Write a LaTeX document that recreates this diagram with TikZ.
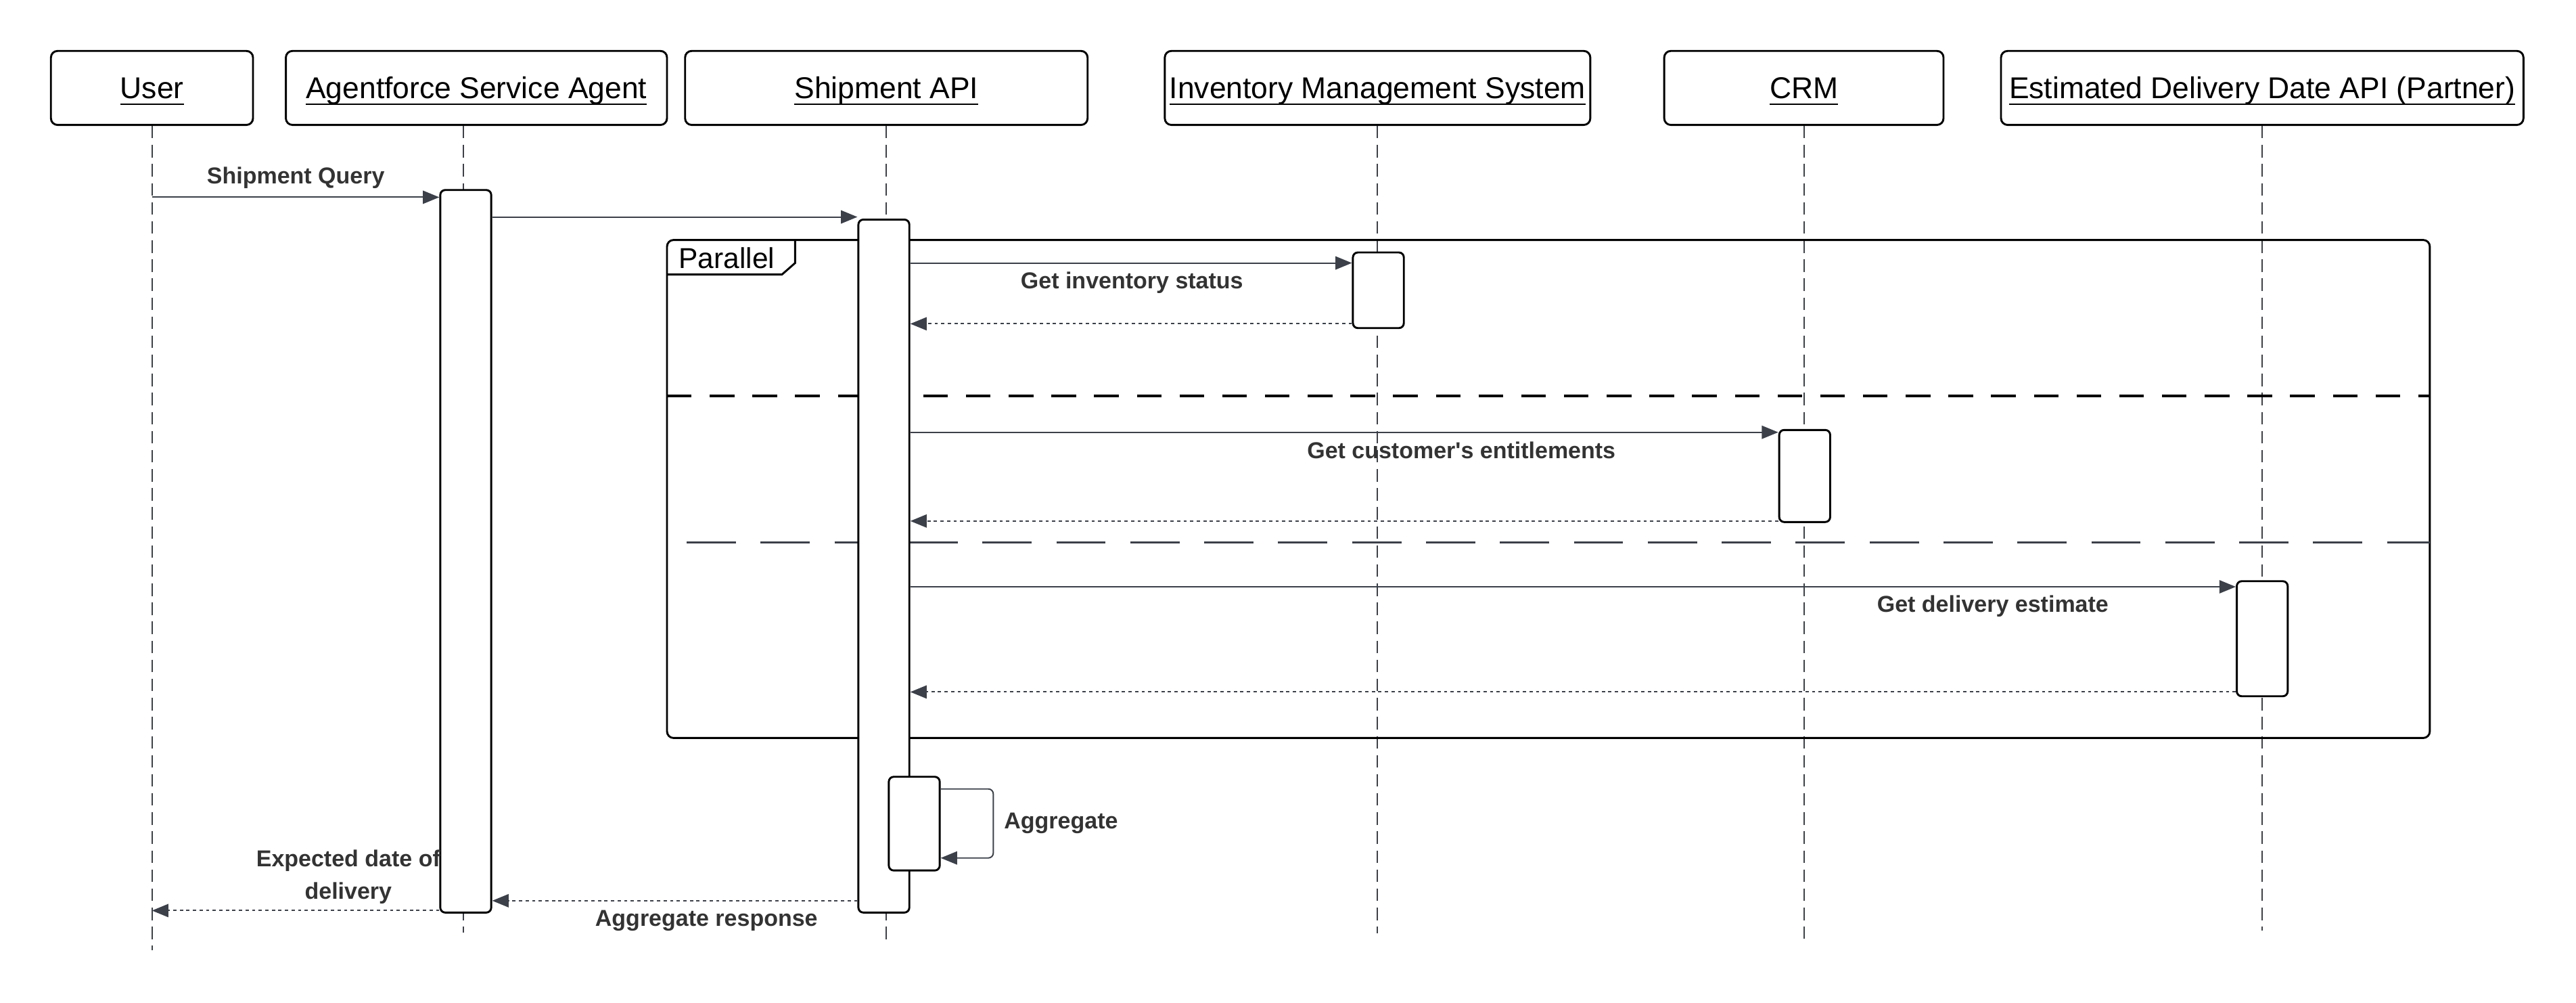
\documentclass[tikz,border=0pt]{standalone}
\usepackage{fontspec}
\setmainfont{Liberation Sans}
\usetikzlibrary{arrows.meta}

\definecolor{msgcol}{RGB}{59,64,73}
\definecolor{txtcol}{RGB}{51,51,51}

% underlined participant name, rule at a fixed depth
\newcommand{\actorlabel}[1]{\setbox0\hbox{#1}\rlap{\rule[-4pt]{\wd0}{1.1pt}}\box0}

\tikzset{
  actor/.style={draw, line width=1.2pt, rounded corners=4pt, fill=white,
    minimum height=45pt, inner sep=0pt, text height=17pt, text depth=4pt,
    font=\fontsize{18.3}{22}\selectfont},
  lifeline/.style={draw=msgcol, line width=0.8pt, dash pattern=on 7.6pt off 4pt},
  act/.style={draw, line width=1.2pt, rounded corners=3pt, fill=white,
    minimum width=31pt, inner sep=0pt, anchor=north},
  msg/.style={draw=msgcol, line width=0.8pt, -{Triangle[length=10pt,width=8pt]}},
  reply/.style={msg, dash pattern=on 2pt off 2pt},
  msglabel/.style={text=txtcol, inner sep=0pt, align=center,
    font=\bfseries\fontsize{14}{19.5}\selectfont},
}

\begin{document}
\begin{tikzpicture}[x=1pt, y=-1pt]

\useasboundingbox (0,0) rectangle (1568,610);

% ============================
% Participants
% ============================
\node[actor, minimum width=123pt] (user)  at (92.5,53.5) {\actorlabel{User}};
\node[actor, minimum width=232pt] (agent) at (290,53.5)  {\actorlabel{Agentforce Service Agent}};
\node[actor, minimum width=245pt] (ship)  at (539.5,53.5) {\actorlabel{Shipment API}};
\node[actor, minimum width=259pt] (ims)   at (838.5,53.5) {\actorlabel{Inventory Management System}};
\node[actor, minimum width=170pt] (crm)   at (1098,53.5) {\actorlabel{CRM}};
\node[actor, minimum width=318pt] (edd)   at (1377,53.5) {\actorlabel{Estimated Delivery Date API (Partner)}};

% ============================
% Lifelines
% ============================
\coordinate (agentLL) at ([xshift=-8pt]agent.south);
\draw[lifeline] (agentLL) -- (agentLL |- 0,567.5);
\foreach \p/\e in {user/578, ship/575, ims/568, crm/571, edd/566}{
  \draw[lifeline] (\p.south) -- (\p.south |- 0,\e);
}

% ============================
% Parallel frame
% ============================
\draw[line width=1.2pt, rounded corners=4pt] (406,146) rectangle (1479,449);
\draw[line width=1.2pt] (406,167) -- (476,167) -- (484,160) -- (484,146);
\node[anchor=west, inner sep=0pt, font=\fontsize{17.5}{21}\selectfont] (partag) at (413,157) {Parallel};

\draw[line width=1.7pt, dash pattern=on 15pt off 11pt] (406,241) -- (1479,241);
\draw[msgcol, line width=1.2pt, dash pattern=on 30pt off 15pt] (418,330) -- (1479,330);

% ============================
% Activation boxes
% ============================
\foreach \n/\x/\y/\h in {actAgent/283.5/115/439.6, actShip/538/133/421.6,
    actIms/839/153/46, actCrm/1098.5/261/56, actEdd/1377/353/70, actAgg/556.5/472/57}{
  \node[act, minimum height=\h pt] (\n) at (\x,\y) {};
}

% ============================
% Messages
% ============================
\draw[msg] (user.south |- 0,120) -- (actAgent.west |- 0,120);
\draw[msg] (actAgent.east |- 0,132) -- (actShip.west |- 0,132);

\draw[msg]   (actShip.east |- 0,160) -- (actIms.west |- 0,160);
\draw[reply] (actIms.west |- 0,197) -- (actShip.east |- 0,197);

\draw[msg]   (actShip.east |- 0,263) -- (actCrm.west |- 0,263);
\draw[reply] (actCrm.west |- 0,317) -- (actShip.east |- 0,317);

\draw[msg]   (actShip.east |- 0,357) -- (actEdd.west |- 0,357);
\draw[reply] (actEdd.west |- 0,421) -- (actShip.east |- 0,421);

% self call
\draw[msg, rounded corners=3pt] (actAgg.east |- 0,480) -- ++(32,0) -- ++(0,42) -- (actAgg.east |- 0,522);

\draw[reply] (actShip.west |- 0,548) -- (actAgent.east |- 0,548);
\draw[reply] (actAgent.west |- 0,554) -- (user.south |- 0,554);

% ============================
% Labels
% ============================
\node[msglabel] (lQuery) at (180,108)   {Shipment Query};
\node[msglabel] (lInv)   at (689,172)   {Get inventory status};
\node[msglabel] (lCrm)   at (889.5,274) {Get customer\textquotesingle s entitlements};
\node[msglabel] (lEdd)   at (1213,369)  {Get delivery estimate};
\node[msglabel, anchor=west] (lAgg) at (611,501) {Aggregate};
\node[msglabel] (lResp)  at (430,560)   {Aggregate response};
\node[msglabel] (lDate)  at (212,533.5) {Expected date of\\delivery};

\end{tikzpicture}
\end{document}
